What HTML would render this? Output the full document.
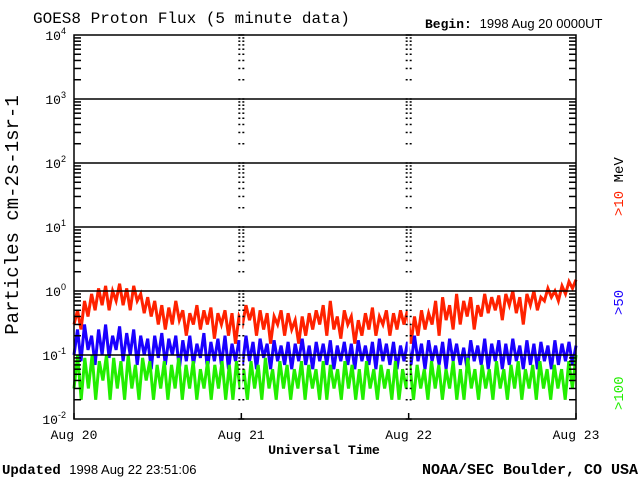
<!DOCTYPE html>
<html><head><meta charset="utf-8"><style>
body{margin:0;background:#fff;}
svg text{font-family:"Liberation Mono",monospace;}
</style></head><body>
<svg id="c" width="640" height="480" xmlns="http://www.w3.org/2000/svg">
<text x="33" y="23" font-size="16">GOES8 Proton Flux (5 minute data)</text>
<text x="425" y="28" font-size="13"><tspan font-weight="bold">Begin:</tspan> <tspan font-family="Liberation Sans" font-size="13">1998 Aug 20 0000UT</tspan></text>
<text transform="translate(18,215) rotate(-90)" text-anchor="middle" font-size="19">Particles cm-2s-1sr-1</text>
<text x="324" y="454" text-anchor="middle" font-size="13.3" font-weight="bold">Universal Time</text>
<text x="2" y="474" font-size="14"><tspan font-weight="bold">Updated</tspan> <tspan font-family="Liberation Sans" font-size="13">1998 Aug 22 23:51:06</tspan></text>
<text x="638" y="474" text-anchor="end" font-size="15" font-weight="bold">NOAA/SEC Boulder, CO USA</text>
<text transform="translate(623,216) rotate(-90)" font-family="Liberation Sans" font-size="14" fill="#ff2200">&gt;10 <tspan fill="#000">MeV</tspan></text>
<text transform="translate(623,315) rotate(-90)" font-family="Liberation Sans" font-size="14" fill="#1a00ff">&gt;50</text>
<text transform="translate(623,410) rotate(-90)" font-family="Liberation Sans" font-size="14" fill="#22ee00">&gt;100</text>
<g id="g"></g>
</svg>
<script>
const dayLabels=["Aug 20","Aug 21","Aug 22","Aug 23"];
const decadeExps=[-2,-1,0,1,2,3,4];
const red=[0.3,0.5,0.25,0.7,0.4,0.9,0.5,1.1,0.6,1.2,0.5,1.0,0.7,1.3,0.6,1.1,0.5,1.2,0.7,0.9,0.45,0.8,0.4,0.7,0.3,0.6,0.25,0.55,0.3,0.7,0.35,0.5,0.2,0.45,0.3,0.6,0.25,0.5,0.3,0.55,0.18,0.45,0.3,0.5,0.2,0.45,0.15,0.4,
0.3,0.6,0.35,0.55,0.2,0.5,0.25,0.45,0.15,0.4,0.3,0.5,0.2,0.45,0.25,0.35,0.15,0.4,0.2,0.45,0.25,0.5,0.3,0.6,0.2,0.7,0.25,0.4,0.18,0.5,0.3,0.4,0.15,0.35,0.2,0.45,0.25,0.55,0.2,0.4,0.3,0.5,0.2,0.45,0.25,0.5,0.3,0.5,
0.15,0.4,0.2,0.5,0.25,0.45,0.3,0.7,0.2,0.8,0.35,0.6,0.25,0.9,0.3,0.7,0.4,0.8,0.25,0.6,0.4,0.9,0.45,0.8,0.5,0.85,0.35,0.9,0.6,1.0,0.45,0.8,0.3,0.9,0.6,1.0,0.5,0.8,0.7,1.1,0.8,1.0,0.7,1.2,0.9,1.4,1.1,1.5];
const blue=[0.1,0.25,0.08,0.3,0.12,0.2,0.07,0.25,0.1,0.3,0.09,0.2,0.12,0.28,0.08,0.22,0.1,0.25,0.07,0.2,0.1,0.18,0.06,0.2,0.09,0.22,0.07,0.18,0.1,0.2,0.06,0.17,0.08,0.2,0.07,0.15,0.09,0.22,0.06,0.16,0.08,0.18,0.07,0.2,0.06,0.15,0.08,0.17,
0.07,0.2,0.08,0.16,0.06,0.18,0.09,0.15,0.06,0.17,0.08,0.14,0.07,0.16,0.06,0.15,0.08,0.18,0.07,0.14,0.06,0.16,0.08,0.15,0.07,0.17,0.06,0.14,0.08,0.16,0.07,0.15,0.06,0.17,0.08,0.14,0.07,0.16,0.06,0.18,0.08,0.15,0.07,0.16,0.06,0.14,0.08,0.16,
0.07,0.2,0.08,0.15,0.06,0.17,0.08,0.14,0.07,0.16,0.06,0.18,0.08,0.15,0.07,0.13,0.06,0.17,0.08,0.14,0.07,0.18,0.06,0.15,0.08,0.17,0.06,0.15,0.07,0.18,0.08,0.14,0.06,0.17,0.07,0.15,0.06,0.16,0.08,0.14,0.06,0.17,0.07,0.15,0.08,0.16,0.07,0.14];
const green=[0.03,0.1,0.02,0.09,0.03,0.1,0.02,0.08,0.04,0.1,0.02,0.09,0.03,0.08,0.02,0.1,0.03,0.07,0.02,0.09,0.04,0.08,0.02,0.07,0.03,0.08,0.02,0.07,0.03,0.09,0.02,0.07,0.03,0.08,0.02,0.06,0.03,0.08,0.02,0.07,0.03,0.08,0.02,0.07,0.02,0.08,0.03,0.06,
0.02,0.08,0.03,0.07,0.02,0.09,0.03,0.06,0.02,0.08,0.03,0.07,0.02,0.06,0.03,0.08,0.02,0.07,0.03,0.06,0.02,0.08,0.02,0.07,0.03,0.06,0.02,0.08,0.03,0.07,0.02,0.06,0.02,0.08,0.03,0.06,0.02,0.07,0.03,0.06,0.02,0.08,0.02,0.06,0.03,0.07,
0.02,0.07,0.03,0.06,0.02,0.08,0.03,0.07,0.02,0.06,0.03,0.08,0.02,0.06,0.02,0.09,0.03,0.06,0.02,0.07,0.03,0.06,0.02,0.08,0.03,0.06,0.02,0.07,0.03,0.08,0.02,0.06,0.03,0.07,0.02,0.08,0.03,0.06,0.02,0.07,0.03,0.06,0.02,0.08,0.03,0.1];
const X0=74,X1=576,Y0=35,Y1=419;
const NS="http://www.w3.org/2000/svg";const g=document.getElementById('g');
function xs(t){return X0+(X1-X0)*t/3;}
function ys(v){return Y1-(Math.log10(v)+2)*(Y1-Y0)/6;}
function el(tag,attrs,parent){const e=document.createElementNS(NS,tag);for(const k in attrs)e.setAttribute(k,attrs[k]);(parent||g).appendChild(e);return e;}
const series=[[red,"#ff2200","series-10mev"],[blue,"#1a00ff","series-50mev"],[green,"#22ee00","series-100mev"]];
for(const [arr,col,nm] of series){
  const n=arr.length;let d="";
  arr.forEach((v,i)=>{const t=3*i/(n-1);d+=(i?"L":"M")+xs(t).toFixed(1)+" "+ys(v).toFixed(1);});
  const p=el('path',{d:d,fill:"none",stroke:col,"stroke-width":3,"stroke-linejoin":"miter"});
  
  
}
decadeExps.forEach(e=>{
  const y=ys(Math.pow(10,e));
  if(e>-2&&e<4){const l=el('line',{x1:X0,x2:X1,y1:y,y2:y,stroke:"#000","stroke-width":1.5});
  
  }
  const t=el('text',{x:X0-8,y:y+5,"text-anchor":"end","font-family":"Liberation Sans","font-size":13});
  
  
  t.textContent="10";const s=el('tspan',{dy:-6,"font-size":9,"font-family":"Liberation Sans"},t);s.textContent=e;
  if(e<4){for(let m=2;m<10;m++){const ym=ys(m*Math.pow(10,e));
    [X0,xs(1),xs(2),X1].forEach((xx,k)=>{
      const x1=k==0?X0:(k==3?X1-7:xx-3),x2=k==0?X0+7:(k==3?X1:xx+3);
      el('line',{x1:x1,x2:x2,y1:ym,y2:ym,stroke:"#000","stroke-width":1.5});});}}
});
[1,2].forEach(d=>{const x=xs(d);el('line',{x1:x,x2:x,y1:Y0+1,y2:Y1-1,stroke:"#fff","stroke-width":2});
  decadeExps.forEach(e=>{const y=ys(Math.pow(10,e));el('line',{x1:x-3,x2:x+3,y1:y,y2:y,stroke:"#000","stroke-width":1.5});});});
const fr=el('rect',{x:X0,y:Y0,width:X1-X0,height:Y1-Y0,fill:"none",stroke:"#000","stroke-width":1.5});


dayLabels.forEach((s,i)=>{const x=xs(i);
  el('line',{x1:x,x2:x,y1:Y1,y2:Y1-6,stroke:"#000","stroke-width":1.5});
  const t=el('text',{x:x,y:439,"text-anchor":"middle","font-family":"Liberation Sans","font-size":13});
  
  
  t.textContent=s;});
</script>
</body></html>
